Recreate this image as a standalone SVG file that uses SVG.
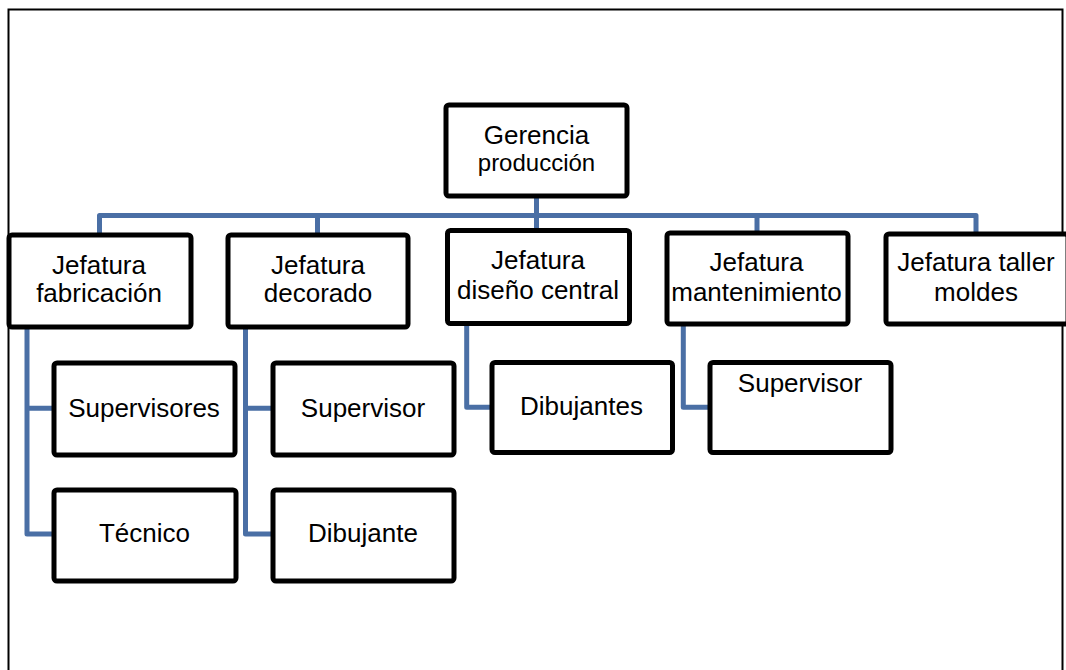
<svg xmlns="http://www.w3.org/2000/svg" width="1066" height="670" viewBox="0 0 1066 670">
  <style>
    .frame { fill: none; stroke: #000; stroke-width: 2; }
    .box { fill: #fff; stroke: #000; stroke-width: 5; }
    .link { fill: none; stroke: #4a6fa5; stroke-width: 5; stroke-linejoin: round; }
    text { font-family: "Liberation Sans", Arial, sans-serif; font-size: 26px; fill: #000; text-anchor: middle; }
    .small { font-size: 24px; }
  </style>
  <rect width="1066" height="670" fill="#fff"/>
  <rect class="frame" x="8.5" y="9.5" width="1054" height="690"/>

  <!-- reporting lines -->
  <g id="connectors">
    <path class="link" d="M536.5 198 V230"/>
    <path class="link" d="M99.5 233 V215.5 H976 V233"/>
    <path class="link" d="M317.5 215.5 V233"/>
    <path class="link" d="M757 215.5 V233"/>
    <path class="link" d="M27 329 V534 H54 M27 408.3 H54"/>
    <path class="link" d="M245.5 329 V534 H273 M245.5 408.3 H273"/>
    <path class="link" d="M466.7 325 V407.3 H492"/>
    <path class="link" d="M683.3 326 V407.3 H710"/>
  </g>

  <g id="gerencia">
    <rect class="box" x="446" y="105" width="181" height="91" rx="3"/>
    <text x="536.5" y="144">Gerencia</text>
    <text class="small" x="536.5" y="170.5">producción</text>
  </g>

  <g id="jefatura-fabricacion">
    <rect class="box" x="9" y="235" width="182" height="92" rx="3"/>
    <text x="99" y="274">Jefatura</text>
    <text x="99" y="302">fabricación</text>
  </g>

  <g id="jefatura-decorado">
    <rect class="box" x="228" y="235" width="180" height="92" rx="3"/>
    <text x="318" y="274">Jefatura</text>
    <text x="318" y="302">decorado</text>
  </g>

  <g id="jefatura-diseno">
    <rect class="box" x="447.5" y="230.5" width="182" height="93" rx="3"/>
    <text x="538" y="269">Jefatura</text>
    <text x="538" y="298.5">diseño central</text>
  </g>

  <g id="jefatura-mantenimiento">
    <rect class="box" x="667" y="233" width="181" height="91" rx="3"/>
    <text x="756.5" y="271">Jefatura</text>
    <text x="756.5" y="300.5">mantenimiento</text>
  </g>

  <g id="jefatura-taller">
    <rect class="box" x="886" y="234" width="182" height="90" rx="3"/>
    <text x="976" y="271">Jefatura taller</text>
    <text x="976" y="300.5">moldes</text>
  </g>

  <g id="supervisores">
    <rect class="box" x="54" y="363" width="181" height="92" rx="3"/>
    <text x="144" y="416.7">Supervisores</text>
  </g>

  <g id="tecnico">
    <rect class="box" x="54" y="490" width="182" height="91" rx="3"/>
    <text x="144.5" y="541.7">Técnico</text>
  </g>

  <g id="supervisor-decorado">
    <rect class="box" x="273" y="363" width="181" height="92" rx="3"/>
    <text x="363" y="416.7">Supervisor</text>
  </g>

  <g id="dibujante">
    <rect class="box" x="273" y="490" width="181" height="91" rx="3"/>
    <text x="363" y="541.7">Dibujante</text>
  </g>

  <g id="dibujantes">
    <rect class="box" x="492" y="362.5" width="180.5" height="90" rx="3"/>
    <text x="581.5" y="415">Dibujantes</text>
  </g>

  <g id="supervisor-mantenimiento">
    <rect class="box" x="710" y="362.5" width="181" height="90" rx="3"/>
    <text x="800" y="391.7">Supervisor</text>
  </g>
</svg>
